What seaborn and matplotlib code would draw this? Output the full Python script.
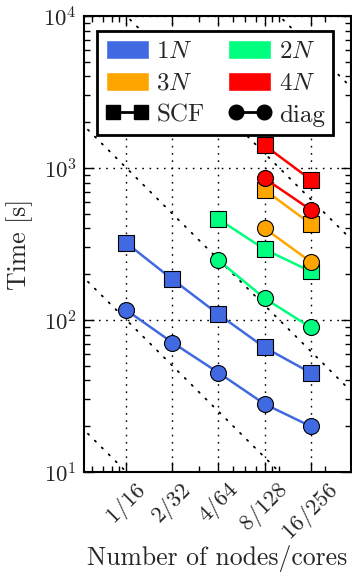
import matplotlib
matplotlib.use("Agg")
import matplotlib.pyplot as plt
import seaborn as sns
import pandas as pd
import numpy as np
from matplotlib.patches import Patch
from matplotlib.lines import Line2D
from matplotlib.ticker import LogLocator, FixedLocator, NullFormatter

# data
nodes = [1, 2, 4, 8, 16]
node_labels = ["1/16", "2/32", "4/64", "8/128", "16/256"]

scf_1n = [321, 185, 109, 66, 45]
diag_1n = [116, 71, 45, 28, 20]
scf_2n = [461, 292, 209]
diag_2n = [247, 139, 89.5]
scf_3n = [717, 430]
diag_3n = [401, 242]
scf_4n = [1410, 840]
diag_4n = [855, 532]

ideal_consts = [1e1, 1e2, 1e3, 1e4, 1e5]

series_names = ["1N", "2N", "3N", "4N"]
series_colors = ["#4169E1", "#00FF7F", "#FFA500", "#FF0000"]

# build long table for seaborn
rows = []
for name, scf, diag in zip(series_names,
                           [scf_1n, scf_2n, scf_3n, scf_4n],
                           [diag_1n, diag_2n, diag_3n, diag_4n]):
    xs = nodes[len(nodes) - len(scf):]
    for x, s, d in zip(xs, scf, diag):
        rows.append({"nodes": x, "time": s, "N": name, "kind": "SCF"})
        rows.append({"nodes": x, "time": d, "N": name, "kind": "diag"})
df = pd.DataFrame(rows)

sns.set_style("ticks")
plt.rcParams["font.family"] = "serif"
plt.rcParams["font.serif"] = ["cmr10", "DejaVu Serif"]
plt.rcParams["mathtext.fontset"] = "cm"
plt.rcParams["axes.formatter.use_mathtext"] = True
plt.rcParams["font.size"] = 16

fig = plt.figure(figsize=(3.52, 5.76), dpi=100)
ax = fig.add_axes([0.2386, 0.1806, 0.7585, 0.7916])
ax.set_xscale("log")
ax.set_yscale("log")

# ideal scaling guides
xg = np.array([0.3, 60.0])
for c in ideal_consts:
    ax.plot(xg, c / xg, color="black", lw=1.3, linestyle=(0, (0.8, 4.6)),
            dash_capstyle="round", zorder=1)

palette = dict(zip(series_names, series_colors))
for (name, kind), grp in df.groupby(["N", "kind"]):
    sns.lineplot(data=grp, x="nodes", y="time", color=palette[name],
                 marker="s" if kind == "SCF" else "o",
                 markersize=11 if kind == "SCF" else 11.5,
                 markeredgecolor="black", markeredgewidth=0.8,
                 lw=1.8, ax=ax, legend=False, zorder=3)

ax.set_xlim(0.528, 29.4)
ax.set_ylim(10, 1e4)

ax.xaxis.set_major_locator(FixedLocator(nodes))
ax.set_xticklabels(node_labels, rotation=45, ha="center")
ax.xaxis.set_minor_locator(LogLocator(base=10, subs=np.arange(1, 10)))
ax.xaxis.set_minor_formatter(NullFormatter())
ax.yaxis.set_major_locator(LogLocator(base=10))
ax.yaxis.set_minor_locator(LogLocator(base=10, subs=np.arange(2, 10)))
ax.yaxis.set_minor_formatter(NullFormatter())

ax.tick_params(which="both", direction="in", top=True, right=True,
               color="black", width=1.0)
ax.tick_params(which="major", length=7.5, labelsize=16.5, pad=5)
ax.tick_params(which="minor", length=4)
for s in ax.spines.values():
    s.set_linewidth(1.5)
    s.set_color("black")

ax.grid(True, which="major", color="black", lw=1.0, linestyle=(0, (1.2, 4)))

ax.set_xlabel("Number of nodes/cores", fontsize=18.5)
ax.set_ylabel("Time [s]", fontsize=18.5)
ax.xaxis.set_label_coords(0.5, -0.16)
ax.yaxis.set_label_coords(-0.19, 0.5)

handles = [Patch(facecolor=series_colors[0], label=r"$1N$"),
           Patch(facecolor=series_colors[2], label=r"$3N$"),
           Line2D([0], [0], color="black", marker="s", markersize=10.5, lw=2, label="SCF"),
           Patch(facecolor=series_colors[1], label=r"$2N$"),
           Patch(facecolor=series_colors[3], label=r"$4N$"),
           Line2D([0], [0], color="black", marker="o", markersize=10.5, lw=2, label="diag")]
leg = ax.legend(handles=handles, ncol=2, loc="upper left",
                bbox_to_anchor=(0.0487, 0.967), borderaxespad=0,
                fancybox=False, framealpha=1, edgecolor="black",
                fontsize=18, handlelength=1.72, handleheight=0.8,
                columnspacing=0.95, labelspacing=0.34, handletextpad=0.3,
                borderpad=0.35, numpoints=2)
leg.get_frame().set_linewidth(2)

fig.savefig("out.png", dpi=100)
